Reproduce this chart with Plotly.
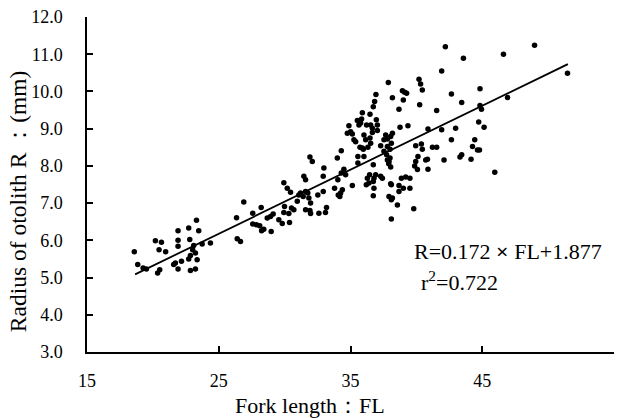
import plotly.graph_objects as go

fork_length = [
    18.59, 18.85, 19.26, 19.51, 20.19, 20.65, 20.47, 20.97, 20.52, 20.36,
    21.91, 22.72, 23.31, 23.48, 21.91, 22.80, 21.91, 23.10, 23.74, 24.37,
    23.02, 22.85, 23.23, 23.36, 22.72, 21.71, 21.58, 22.17, 21.91, 22.85,
    23.23, 26.40, 26.65,
    26.35, 26.90, 27.58, 27.58, 27.86, 28.11, 28.22, 28.25, 28.42, 28.98,
    28.68, 28.93, 29.13, 29.56, 29.82, 29.94, 29.99, 30.32, 30.37, 29.94,
    30.20, 30.45, 30.52, 30.70, 30.96, 31.08, 31.21, 31.41, 31.59, 31.76,
    31.84, 31.97, 31.46, 31.59, 31.59, 31.92, 31.97, 31.92, 32.10, 32.60,
    33.10, 33.18, 32.52, 32.93, 32.98, 32.93, 33.79, 34.04, 34.07, 34.19,
    34.25, 34.38, 34.00, 34.30, 34.30, 34.50, 34.63, 35.14, 35.56, 35.56,
    36.20, 36.40, 36.73, 36.91, 36.45, 36.73, 36.78, 36.73, 37.42, 37.74,
    37.80, 37.92, 38.10, 38.10, 38.56, 38.10, 38.68,
    41.92, 37.87, 40.20, 40.32, 40.45, 42.66, 43.44, 36.93, 38.18, 38.94,
    39.11, 39.26, 39.01, 40.25, 38.68, 41.54, 36.83, 36.73, 36.48, 35.90,
    35.52, 35.84, 35.77, 35.64, 36.22, 36.53, 36.66, 36.96, 37.04, 37.04,
    34.88, 35.01, 35.14, 34.76, 35.26, 35.39, 36.02, 36.15, 36.48, 36.66,
    36.53, 35.72, 35.97, 36.32, 37.67, 37.54, 37.80, 38.18, 38.05, 37.29,
    37.54, 37.80, 38.00, 38.10, 38.00, 38.76, 39.36, 39.95, 40.38, 40.45,
    40.88, 41.54, 41.22, 41.92, 42.98, 42.66, 43.31, 43.44, 42.10, 40.84,
    40.71, 40.12, 39.95, 39.87, 40.08, 40.88, 39.51, 39.19, 38.86, 38.68,
    39.01, 39.51, 38.05, 37.29, 36.78, 36.28, 36.02, 35.90, 37.90, 38.05,
    38.18, 37.92,
    42.20, 48.97, 46.61, 43.57, 51.47, 44.83, 46.92, 44.83, 44.94, 44.73,
    45.14, 44.43, 44.26, 44.64, 44.79, 44.15, 45.95, 39.80,
]

otolith_radius = [
    5.69, 5.35, 5.26, 5.23, 5.99, 5.95, 5.75, 5.69, 5.21, 5.12,
    6.26, 6.33, 6.54, 6.26, 6.00, 6.02, 5.84, 5.86, 5.90, 5.93,
    5.75, 5.59, 5.66, 5.48, 5.50, 5.39, 5.35, 5.44, 5.23, 5.19,
    5.23, 6.04, 5.97,
    6.61, 7.03, 6.73, 6.44, 6.42, 6.39, 6.88, 6.26, 6.30, 6.24,
    6.60, 6.64, 6.71, 6.55, 6.45, 6.75, 6.91, 6.72, 6.48, 7.55,
    7.40, 7.29, 6.87, 6.82, 7.05, 7.22, 7.27, 7.18, 7.31, 7.27,
    7.14, 7.00, 7.72, 7.63, 6.82, 6.80, 6.72, 8.24, 8.12, 6.73,
    6.75, 6.88, 7.22, 7.31, 7.94, 7.72, 7.40, 7.63, 7.22, 7.18,
    7.27, 7.36, 8.21, 8.41, 7.81, 7.91, 7.76, 7.47, 8.25, 8.08,
    7.49, 7.54, 7.58, 7.76, 7.76, 8.03, 7.40, 7.20, 7.67, 8.30,
    8.16, 8.12, 7.49, 7.09, 6.95, 6.57, 7.31,
    10.55, 10.24, 10.33, 10.20, 10.04, 9.93, 9.70, 9.92, 9.83, 10.02,
    9.98, 9.95, 9.77, 9.64, 9.52, 9.49, 9.73, 9.59, 9.39, 9.43,
    9.22, 9.26, 9.15, 9.10, 9.10, 9.10, 9.01, 9.24, 9.10, 8.95,
    9.08, 8.92, 8.86, 8.88, 8.70, 8.65, 8.83, 8.70, 8.75, 8.90,
    8.61, 8.50, 8.45, 8.50, 8.83, 8.70, 8.72, 8.88, 8.79, 8.54,
    8.39, 8.52, 8.45, 8.61, 8.21, 9.04, 9.08, 8.54, 8.59, 8.45,
    8.99, 8.50, 8.50, 8.97, 9.01, 8.70, 8.24, 8.30, 8.16, 8.18,
    8.16, 8.25, 8.12, 8.00, 7.90, 7.91, 7.67, 7.70, 7.67, 7.47,
    7.40, 7.40, 7.52, 7.72, 7.67, 7.67, 8.25, 8.48, 8.06, 7.97,
    7.14, 7.18,
    11.20, 11.24, 11.00, 10.89, 10.49, 10.07, 9.84, 9.62, 9.52, 9.18,
    9.04, 8.70, 8.52, 8.43, 8.43, 8.18, 7.83, 6.85,
]

fit_slope = 0.172
fit_intercept = 1.877
fit_fl_range = [18.65, 51.5]
fit_r = [fit_slope * v + fit_intercept for v in fit_fl_range]

x_ticks = [15, 25, 35, 45, 55]
y_ticks = [3.0, 4.0, 5.0, 6.0, 7.0, 8.0, 9.0, 10.0, 11.0, 12.0]

x_title = "Fork length：FL"
y_title = "Radius of otolith R ：(mm)"

serif = "Liberation Serif, Times New Roman, serif"

fig = go.Figure()
fig.add_trace(go.Scatter(
    x=fork_length, y=otolith_radius, mode="markers",
    marker=dict(color="black", size=5.5),
    showlegend=False, hoverinfo="skip",
))
fig.add_trace(go.Scatter(
    x=fit_fl_range, y=fit_r, mode="lines",
    line=dict(color="black", width=1.8),
    showlegend=False, hoverinfo="skip",
))

fig.add_annotation(
    x=39.7, y=5.70, xref="x", yref="y", xanchor="left", yanchor="middle",
    text="R=0.172 <b>×</b> FL+1.877", showarrow=False,
    font=dict(family=serif, size=22, color="black"),
)
fig.add_annotation(
    x=40.2, y=4.90, xref="x", yref="y", xanchor="left", yanchor="middle",
    text="r<sup>2</sup>=0.722", showarrow=False,
    font=dict(family=serif, size=22, color="black"),
)
# axis titles
fig.add_annotation(
    x=0.4231, y=-0.1595, xref="paper", yref="paper",
    xanchor="center", yanchor="middle", text=x_title, showarrow=False,
    borderpad=0, font=dict(family=serif, size=22, color="black"),
)
fig.add_annotation(
    x=-0.131, y=0.45, xref="paper", yref="paper", textangle=-90,
    xanchor="center", yanchor="middle", text=y_title, showarrow=False,
    font=dict(family=serif, size=23.5, color="black"),
)

fig.update_layout(
    width=619, height=418,
    margin=dict(l=87, r=5, t=17, b=65.5),
    paper_bgcolor="white", plot_bgcolor="white",
    font=dict(family=serif, color="black"),
)
fig.update_xaxes(
    range=[15, 55], tickvals=x_ticks, ticktext=[str(v) for v in x_ticks],
    showgrid=False, zeroline=False,
    showline=True, linecolor="black", linewidth=1.5,
    ticks="inside", ticklen=6, tickwidth=1.5, tickcolor="black",
    tickfont=dict(family=serif, size=18, color="black"),
    ticklabelstandoff=12,
)
fig.update_yaxes(
    range=[3, 12], tickvals=y_ticks, ticktext=[f"{v:.1f}" for v in y_ticks],
    showgrid=False, zeroline=False,
    showline=True, linecolor="black", linewidth=1.5,
    ticks="inside", ticklen=6, tickwidth=1.5, tickcolor="black",
    tickfont=dict(family=serif, size=18, color="black"),
    ticklabelstandoff=19,
)

fig.write_html("out.html")
